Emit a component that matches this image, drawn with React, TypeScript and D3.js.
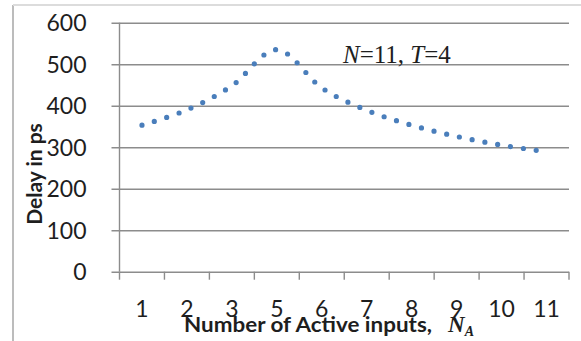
import React, { useRef, useEffect } from 'react';
import * as d3 from 'd3';

// category axis (the source chart skips 4)
const categories = ['1', '2', '3', '5', '6', '7', '8', '9', '10', '11'];
// delay in ps
const delayPs = [353, 390, 448, 535, 443, 389, 353, 326, 305, 289];
const yTicks = [0, 100, 200, 300, 400, 500, 600];

const App: React.FC = () => {
  const svgRef = useRef<SVGSVGElement | null>(null);

  useEffect(() => {
    if (!svgRef.current) return;

    const svg = d3.select(svgRef.current);
    svg.selectAll('*').remove();

    const width = 581;
    const height = 341;
    const plot = { left: 119.5, right: 569, top: 22.7, bottom: 271.7 };
    const font = 'Lato, "Open Sans", sans-serif';
    const textColor = '#1e1e1e';
    const gridColor = '#8c8c8c';

    svg.append('rect')
      .attr('width', width)
      .attr('height', height)
      .attr('fill', '#fff');

    // outer frame (left + top edges only are visible)
    svg.append('line')
      .attr('x1', 13).attr('x2', 13)
      .attr('y1', 5).attr('y2', height)
      .attr('stroke', '#a6a6a6')
      .attr('stroke-width', 1.5);
    svg.append('line')
      .attr('x1', 13).attr('x2', width)
      .attr('y1', 5).attr('y2', 5)
      .attr('stroke', '#dcdcdc')
      .attr('stroke-width', 2);

    const xScale = d3.scaleBand<string>()
      .domain(categories)
      .range([plot.left, plot.right]);

    const yScale = d3.scaleLinear()
      .domain([0, 600])
      .range([plot.bottom, plot.top]);

    // Y axis with gridlines
    svg.append('g')
      .attr('transform', `translate(${plot.left},0)`)
      .call(d3.axisLeft(yScale).tickValues(yTicks).tickSizeOuter(0).tickPadding(27))
      .call(g => g.select('.domain').remove())
      .call(g => g.selectAll('.tick line')
        .attr('x1', plot.right - plot.left)
        .attr('x2', -8)
        .attr('stroke', gridColor)
        .attr('stroke-width', 1.4))
      .call(g => g.selectAll('.tick text')
        .attr('font-family', font)
        .attr('font-size', 23)
        .attr('fill', textColor)
        .attr('dy', '0.36em'));

    svg.append('line')
      .attr('x1', plot.left).attr('x2', plot.left)
      .attr('y1', plot.top).attr('y2', plot.bottom)
      .attr('stroke', gridColor)
      .attr('stroke-width', 1.4);

    // X axis labels at band centers
    svg.append('g')
      .attr('transform', `translate(0,${plot.bottom})`)
      .call(d3.axisBottom(xScale).tickSize(0).tickPadding(29))
      .call(g => g.select('.domain').remove())
      .call(g => g.selectAll('.tick text')
        .attr('font-family', font)
        .attr('font-size', 23)
        .attr('fill', textColor));

    // X tick marks sit on the band edges
    const edges = categories.map(c => xScale(c)!).concat(plot.right);
    svg.selectAll('line.xtick')
      .data(edges)
      .join('line')
      .attr('class', 'xtick')
      .attr('x1', d => d).attr('x2', d => d)
      .attr('y1', plot.bottom).attr('y2', plot.bottom + 8)
      .attr('stroke', gridColor)
      .attr('stroke-width', 1.4);

    // dotted smoothed series
    const line = d3.line<number>()
      .x((_, i) => xScale(categories[i])! + xScale.bandwidth() / 2)
      .y(d => yScale(d))
      .curve(d3.curveCatmullRom.alpha(0));

    svg.append('path')
      .datum(delayPs)
      .attr('d', line)
      .attr('fill', 'none')
      .attr('stroke', '#4a7ebb')
      .attr('stroke-width', 5.2)
      .attr('stroke-linecap', 'round')
      .attr('stroke-dasharray', '0 13');

    // annotation
    const note = svg.append('text')
      .attr('x', 343)
      .attr('y', 63.3)
      .attr('font-family', '"Liberation Serif", "DejaVu Serif", serif')
      .attr('font-size', 25)
      .attr('fill', textColor);
    note.append('tspan').attr('font-style', 'italic').text('N');
    note.append('tspan').text('=11, ');
    note.append('tspan').attr('font-style', 'italic').text('T');
    note.append('tspan').text('=4');

    // axis titles
    const xTitle = svg.append('text')
      .attr('y', 331.7)
      .attr('font-family', font)
      .attr('font-weight', 'bold')
      .attr('font-size', 21)
      .attr('fill', textColor);
    xTitle.append('tspan')
      .attr('x', 184)
      .attr('textLength', 248)
      .attr('lengthAdjust', 'spacingAndGlyphs')
      .text('Number of Active inputs,');
    xTitle.append('tspan')
      .attr('x', 448)
      .attr('font-family', '"Liberation Serif", serif')
      .attr('font-style', 'italic')
      .attr('font-size', 23)
      .text('N');
    xTitle.append('tspan')
      .attr('font-family', '"Liberation Serif", serif')
      .attr('font-style', 'italic')
      .attr('font-size', 14)
      .attr('dy', 4)
      .text('A');

    svg.append('text')
      .attr('transform', 'translate(42,174) rotate(-90)')
      .attr('text-anchor', 'middle')
      .attr('font-family', font)
      .attr('font-weight', 'bold')
      .attr('font-size', 21)
      .attr('fill', textColor)
      .text('Delay in ps');
  }, []);

  return (
    <svg
      ref={svgRef}
      width={581}
      height={341}
      style={{ position: 'absolute', left: 0, top: 0 }}
    />
  );
};

export default App;
